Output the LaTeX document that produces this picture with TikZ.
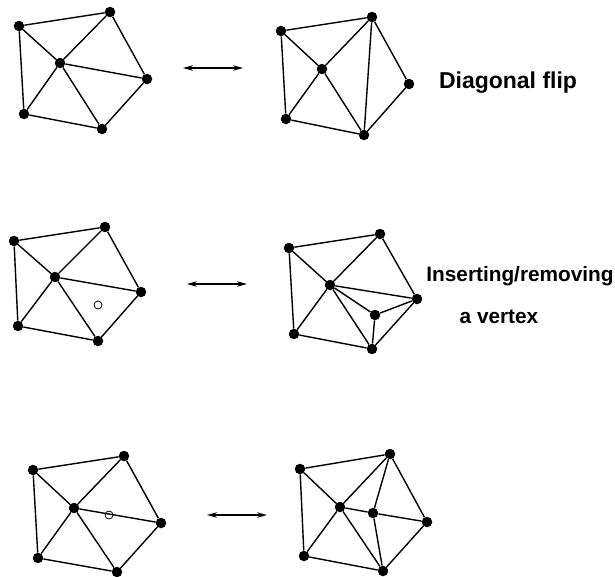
\documentclass[tikz,border=0pt]{standalone}
\usepackage{fontspec}
\setmainfont{Liberation Sans}
\usetikzlibrary{arrows.meta}
\tikzset{
  vertexDot/.style={circle,fill=black,inner sep=0pt,minimum size=10.5pt},
  newDot/.style={circle,draw=black,line width=0.8pt,inner sep=0pt,minimum size=8pt},
  edgeLine/.style={line width=1.4pt,black},
  flipArrow/.style={line width=1.2pt,black,{Stealth[length=10pt,width=5.5pt]}-{Stealth[length=10pt,width=5.5pt]}},
  caption/.style={font=\bfseries\fontsize{20.8}{24}\selectfont,anchor=center,inner sep=0pt}
}
% one pentagon: prefix, then the six vertices
\newcommand{\pentagon}[7]{
  \node[vertexDot] (#1a) at (#2) {};
  \node[vertexDot] (#1b) at (#3) {};
  \node[vertexDot] (#1c) at (#4) {};
  \node[vertexDot] (#1d) at (#5) {};
  \node[vertexDot] (#1e) at (#6) {};
  \node[vertexDot] (#1m) at (#7) {};
  \draw[edgeLine] (#1a) -- (#1b) -- (#1c) -- (#1d) -- (#1e) -- (#1a);
  \foreach \v in {a,b,d,e}
    \draw[edgeLine] (#1m) -- (#1\v);
}
\begin{document}
\begin{tikzpicture}[x=1pt,y=-1pt]
\useasboundingbox (0,0) rectangle (615,576);

% first row
\pentagon{p}{19,26}{110,12}{147,79}{102,129}{24,114}{60,63}
\draw[edgeLine] (pm) -- (pc);
\pentagon{q}{281,31}{372,17}{409,84}{364,135}{286,119}{322,69}
\draw[edgeLine] (qb) -- (qd);
\coordinate (al) at (183,68);
\coordinate (ar) at (243,68);
\draw[flipArrow] (al) -- (ar);
\node[caption,font=\bfseries\fontsize{23}{26}\selectfont] (flipText) at (508,83) {Diagonal flip};

% second row
\pentagon{r}{14,241}{105,227}{141,292}{98,341}{18,326}{55,277}
\draw[edgeLine] (rm) -- (rc);
\node[newDot] (rn) at (98,305) {};
\pentagon{s}{289,248}{380,234}{417,299}{372,349}{294,334}{330,285}
\node[vertexDot] (sn) at (375,315) {};
\draw[edgeLine] (sm) -- (sc);
\draw[edgeLine] (sm) -- (sn);
\draw[edgeLine] (sc) -- (sn);
\draw[edgeLine] (sd) -- (sn);
\coordinate (bl) at (187,284);
\coordinate (br) at (247,284);
\draw[flipArrow] (bl) -- (br);
\node[caption] (insText) at (520,276) {Inserting/removing};
\node[caption] (vtxText) at (499,317) {a vertex};

% third row
\pentagon{t}{33,470}{124,456}{161,523}{117,572}{38,558}{74,508}
\draw[edgeLine] (tm) -- (tc);
\node[newDot] (tn) at (109,515) {};
\pentagon{u}{300,469}{390,454}{427,522}{383,571}{304,556}{340,507}
\node[vertexDot] (un) at (373,513) {};
\draw[edgeLine] (um) -- (un);
\draw[edgeLine] (un) -- (uc);
\draw[edgeLine] (un) -- (ub);
\draw[edgeLine] (un) -- (ud);
\coordinate (cl) at (207,515);
\coordinate (cr) at (267,515);
\draw[flipArrow] (cl) -- (cr);
\end{tikzpicture}
\end{document}
